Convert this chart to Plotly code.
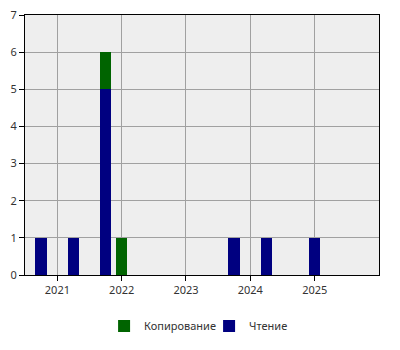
import plotly.graph_objects as go

dates_read = ["2020-10-01", "2021-04-01", "2021-10-01", "2023-10-01", "2024-04-01", "2025-01-01"]
values_read = [1, 1, 5, 1, 1, 1]
dates_copy = ["2021-10-01", "2022-01-01"]
values_copy = [1, 1]
year_ticks = ["2021-01-01", "2022-01-01", "2023-01-01", "2024-01-01", "2025-01-01"]
year_labels = ["2021", "2022", "2023", "2024", "2025"]

bar_w = 65 * 24 * 3600 * 1000

fig = go.Figure()
fig.add_trace(go.Bar(x=dates_read, y=values_read, name="Чтение",
                     marker=dict(color="#000080", line=dict(width=0)),
                     width=[bar_w] * len(dates_read)))
fig.add_trace(go.Bar(x=dates_copy, y=values_copy, name="Копирование",
                     marker=dict(color="#006400", line=dict(width=0)),
                     width=[bar_w] * len(dates_copy)))

fig.update_layout(
    width=400, height=350,
    margin=dict(l=25, r=21, t=15, b=75, autoexpand=False),
    barmode="stack",
    paper_bgcolor="white",
    plot_bgcolor="#eeeeee",
    font=dict(family="Noto Sans", size=11, color="#333333"),
    showlegend=True,
    legend=dict(orientation="h", x=0.52, xanchor="center", y=-0.196, yanchor="middle",
                traceorder="reversed", entrywidth=60, entrywidthmode="pixels",
                font=dict(size=11, color="#333333")),
    xaxis=dict(type="date", range=["2020-07-01", "2026-01-01"],
               tickvals=year_ticks, ticktext=year_labels,
               showgrid=True, gridcolor="#a0a0a0", gridwidth=1,
               showline=True, linecolor="black", linewidth=1, mirror=True,
               ticks="outside", ticklen=5, tickcolor="black", zeroline=False),
    yaxis=dict(range=[0, 7], dtick=1, tick0=0,
               showgrid=True, gridcolor="#a0a0a0", gridwidth=1,
               showline=True, linecolor="black", linewidth=1, mirror=True,
               ticks="outside", ticklen=5, tickcolor="black", zeroline=False),
)

fig.write_html("out.html")
